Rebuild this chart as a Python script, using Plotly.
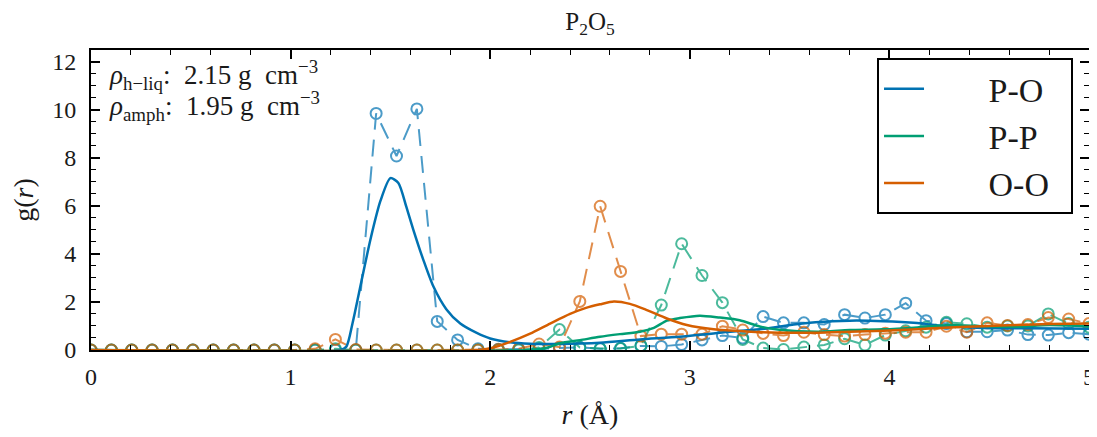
import plotly.graph_objects as go

# ---------------- data ----------------
# binned (dashed + open circle) points: r = k*5/49, k = 0..49
r_bins = [k * 5 / 49 for k in range(50)]

po_bins = [0, 0, 0, 0, 0, 0, 0, 0, 0, 0,
           0, 0, 0, 0, 9.84, 8.07, 10.03, 1.19, 0.42, 0.05,
           0.03, 0.03, 0.05, 0.08, 0.11, 0.05, 0.07, 0.17, 0.15, 0.23,
           0.42, 0.60, 0.50, 1.39, 1.13, 1.13, 1.06, 1.47, 1.33, 1.47,
           1.95, 1.22, 1.10, 0.76, 0.76, 0.83, 0.64, 0.62, 0.72, 0.66]

pp_bins = [0, 0, 0, 0, 0, 0, 0, 0, 0, 0,
           0, 0, 0.05, 0, 0, 0, 0, 0, 0, 0,
           0, 0, 0.10, 0.85, 0.10, 0.06, 0.06, 0.18, 1.87, 4.42,
           3.10, 1.97, 0.44, 0.08, 0.02, 0.12, 0.21, 0.47, 0.21, 0.62,
           0.80, 0.95, 1.15, 1.09, 0.95, 1.00, 1.00, 1.50, 1.10, 0.95]

oo_bins = [0, 0, 0, 0, 0, 0, 0, 0, 0, 0,
           0, 0.05, 0.44, 0.02, 0, 0, 0, 0, 0, 0,
           0.02, 0.05, 0.25, 0.12, 2.02, 5.98, 3.27, 0.58, 0.66, 0.66,
           0.66, 0.99, 0.83, 0.69, 0.60, 0.74, 0.64, 0.58, 0.64, 0.70,
           0.74, 0.74, 0.99, 0.74, 1.13, 1.02, 1.06, 1.35, 1.29, 1.10]

# smooth (solid) curves
po_r = [0, 1.25, 1.28, 1.31, 1.356, 1.40, 1.45, 1.50, 1.54, 1.58, 1.615, 1.665,
        1.715, 1.78, 1.85, 1.93, 2.0, 2.1, 2.2, 2.35, 2.55, 2.75, 2.95, 3.15,
        3.35, 3.47, 3.63, 3.80, 3.97, 4.14, 4.27, 4.47, 4.70, 5.0]
po_g = [0, 0, 0.15, 1.1, 2.9, 4.6, 6.2, 7.15, 6.95, 5.95, 5.0, 3.75,
        2.65, 1.7, 1.1, 0.72, 0.48, 0.32, 0.26, 0.25, 0.30, 0.44, 0.55, 0.72,
        0.86, 1.0, 1.15, 1.22, 1.20, 1.12, 1.0, 0.92, 0.90, 0.88]

pp_r = [0, 2.2, 2.28, 2.35, 2.45, 2.55, 2.65, 2.75, 2.82, 2.885, 2.95, 3.05,
        3.15, 3.25, 3.35, 3.45, 3.64, 3.80, 3.97, 4.14, 4.30, 4.47, 4.64, 4.80, 5.0]
pp_g = [0, 0, 0.08, 0.28, 0.41, 0.55, 0.66, 0.76, 0.92, 1.22, 1.33, 1.43,
        1.35, 1.24, 0.98, 0.84, 0.76, 0.83, 0.86, 0.94, 1.04, 0.99, 0.97, 1.04, 0.98]

oo_r = [0, 1.95, 2.0, 2.1, 2.2, 2.3, 2.4, 2.48, 2.55, 2.62, 2.70, 2.785,
        2.885, 2.985, 3.12, 3.285, 3.45, 3.64, 3.80, 3.97, 4.14, 4.30, 4.47,
        4.64, 4.80, 5.0]
oo_g = [0, 0, 0.07, 0.34, 0.68, 1.1, 1.5, 1.75, 1.9, 2.02, 1.92, 1.66,
        1.31, 1.04, 0.86, 0.77, 0.72, 0.72, 0.76, 0.80, 0.86, 0.94, 0.99,
        1.04, 1.08, 1.10]

labels = ["P-O", "P-P", "O-O"]
colors = ["#0072B2", "#009E73", "#D55E00"]
x_ticks = [0, 1, 2, 3, 4, 5]
y_ticks = [0, 2, 4, 6, 8, 10, 12]

FONT = "Liberation Serif"
TXT = "#1a1a1a"
NB = "\u00a0"

fig = go.Figure()

bins = [po_bins, pp_bins, oo_bins]
for ys, c in zip(bins, colors):
    fig.add_trace(go.Scatter(
        x=r_bins, y=ys, mode="lines+markers", showlegend=False, opacity=0.7,
        line=dict(color=c, width=2, dash="17px,10px"),
        marker=dict(symbol="circle-open", size=11, color=c, line=dict(width=2, color=c)),
        hoverinfo="skip"))

solids = [(po_r, po_g), (pp_r, pp_g), (oo_r, oo_g)]
for (xs, ys), c, lab in zip(solids, colors, labels):
    fig.add_trace(go.Scatter(
        x=xs, y=ys, mode="lines", name=NB * 7 + lab + NB * 2,
        line=dict(color=c, width=2.5, shape="spline", smoothing=0.7)))

axis_common = dict(
    showline=True, linecolor="black", linewidth=2, mirror="ticks",
    ticks="inside", ticklen=9, tickwidth=1.5, tickcolor="black",
    showgrid=False, zeroline=False, automargin=False,
    tickfont=dict(family=FONT, size=24, color=TXT),
)

fig.update_xaxes(range=[0, 5], tickvals=x_ticks, ticklabelstandoff=4,
                 minor=dict(dtick=0.2, ticks="inside", ticklen=5, tickcolor="black", tickwidth=1),
                 title=dict(text="<i>r</i> (Å)", font=dict(family=FONT, size=28, color=TXT), standoff=16),
                 **axis_common)
fig.update_yaxes(range=[0, 12.48], tickvals=y_ticks, ticklabelstandoff=8,
                 minor=dict(dtick=0.5, ticks="inside", ticklen=5, tickcolor="black", tickwidth=1),
                 title=dict(text="g(<i>r</i>)", font=dict(family=FONT, size=28, color=TXT), standoff=14),
                 **axis_common)

fig.add_annotation(xref="paper", yref="paper", x=0.016, y=0.915, xanchor="left", yanchor="middle",
                   text="<i>ρ</i><sub>h−liq</sub>:" + NB + " 2.15 g" + NB + " cm<sup>−3</sup>", showarrow=False,
                   font=dict(family=FONT, size=27, color=TXT))
fig.add_annotation(xref="paper", yref="paper", x=0.016, y=0.812, xanchor="left", yanchor="middle",
                   text="<i>ρ</i><sub>amph</sub>:" + NB + " 1.95 g" + NB + " cm<sup>−3</sup>", showarrow=False,
                   font=dict(family=FONT, size=27, color=TXT))

# page body adds an 8px offset; the figure is sized so the plot lands where the reference has it
fig.update_layout(
    width=1089, height=429,
    margin=dict(l=83, r=8, t=42, b=87),
    paper_bgcolor="white", plot_bgcolor="white",
    title=dict(text="P<sub>2</sub>O<sub>5</sub>", x=0.5344, xanchor="center", y=0.97, yanchor="middle",
               font=dict(family=FONT, size=25, color=TXT)),
    legend=dict(x=0.7876, y=0.973, xanchor="left", yanchor="top",
                bordercolor="black", borderwidth=2, bgcolor="white",
                font=dict(family=FONT, size=34, color=TXT),
                itemwidth=40, tracegroupgap=4),
    showlegend=True,
)

fig.write_html("out.html")
